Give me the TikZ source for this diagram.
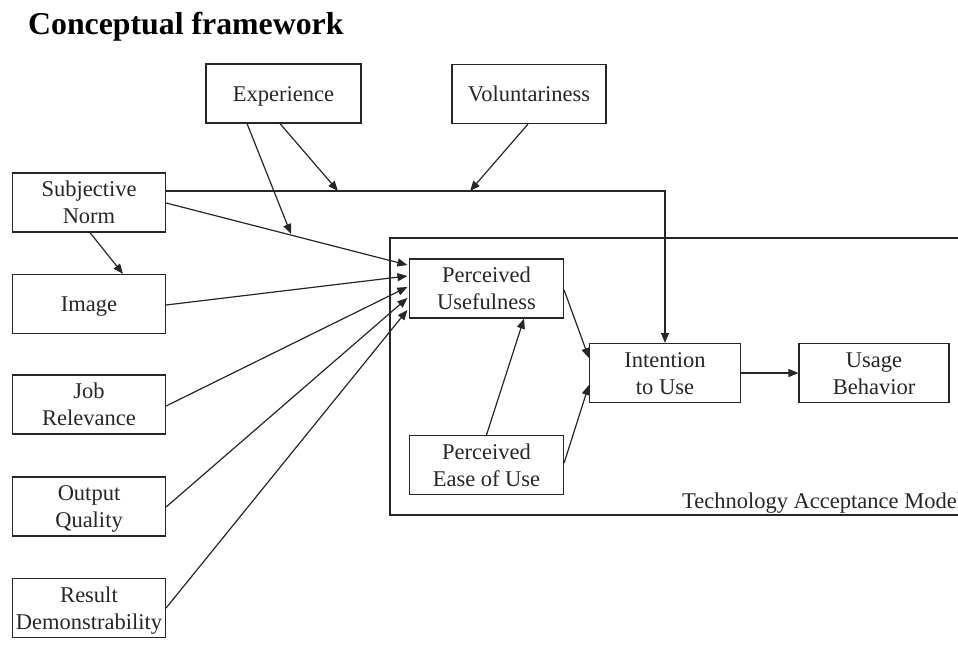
\documentclass[tikz,border=0pt]{standalone}
\usepackage{fontspec}
\setmainfont{Liberation Serif}
\usetikzlibrary{arrows.meta}
\definecolor{ink}{HTML}{262626}
% centred box label, lines 27pt apart
\newcommand\bxlabel[1]{\begin{tabular}{@{}c@{}}#1\end{tabular}}
\begin{document}
\begin{tikzpicture}[x=1pt,y=-1pt,
  box/.style={draw=ink,line width=1.2pt,text=ink,inner sep=0pt,
    text height=15.2pt,text depth=0pt,
    minimum width=#1,minimum height=59pt,font=\fontsize{22.5}{27}\selectfont},
  box/.default=153pt,
  link/.style={draw=ink,line width=1.2pt,-{Triangle[length=10pt,width=8pt]}},
  plain/.style={draw=ink,line width=1.2pt}]
\useasboundingbox (0,0) rectangle (958,660);
\begin{scope}
\clip (0,0) rectangle (958,660);

% title
\node[anchor=base west,font=\bfseries\fontsize{31.8}{36}\selectfont,inner sep=0pt] (title) at (28,35) {Conceptual framework};

% moderators
\node[box=155pt] (exp) at (283.5,93.5) {\bxlabel{Experience}};
\node[box=154pt] (vol) at (529,94) {\bxlabel{Voluntariness}};

% external variables
\node[box] (sn)  at (89,202.5) {\bxlabel{Subjective\\Norm}};
\node[box] (img) at (89,304)   {\bxlabel{Image}};
\node[box] (job) at (89,404.5) {\bxlabel{Job\\Relevance}};
\node[box] (out) at (89,506.5) {\bxlabel{Output\\Quality}};
\node[box] (res) at (89,608)   {\bxlabel{Result\\Demonstrability}};

% technology acceptance model frame (runs off the right edge)
\draw[plain] (965,238) -- (390,238) -- (390,515) -- (965,515);
\node[anchor=base west,inner sep=0pt,text=ink,font=\fontsize{22.5}{27}\selectfont] (tamlabel) at (682,508) {Technology Acceptance Model};

% TAM constructs
\node[box=154pt] (pu)   at (486.5,288.5) {\bxlabel{Perceived\\Usefulness}};
\node[box=154pt] (peou) at (486.5,465)   {\bxlabel{Perceived\\Ease of Use}};
\node[box=151pt] (int)  at (665,373)     {\bxlabel{Intention\\to Use}};
\node[box=150pt] (use)  at (874,373)     {\bxlabel{Usage\\Behavior}};

% junctions on the moderated paths
\coordinate (bend) at (665,191);
\coordinate (jexp) at (338,191);
\coordinate (jvol) at (470,191);
\coordinate (jsn)  at (291,234);

% subjective norm -> intention (moderated)
\draw[link] (sn.east |- bend) -- (bend) -- (int.north);
\draw[link] ([xshift=-3.5pt]exp.south) -- (jexp);
\draw[link] ([xshift=-1pt]vol.south) -- (jvol);

% subjective norm -> perceived usefulness (moderated by experience)
\draw[link] ([yshift=-0.5pt]sn.east) -- ([xshift=-1.5pt,yshift=23.5pt]pu.west);
\draw[link] ([xshift=-36.5pt]exp.south) -- (jsn);
\draw[link] ([xshift=1pt]sn.south) -- ([xshift=34pt]img.north);

% other determinants of perceived usefulness
\draw[link] ([yshift=-1pt]img.east) -- ([xshift=-1.5pt,yshift=12.5pt]pu.west);
\draw[link] ([yshift=-1.5pt]job.east) -- ([xshift=-1.5pt,yshift=1.5pt]pu.west);
\draw[link] ([yshift=-0.5pt]out.east) -- ([xshift=-1.5pt,yshift=-9.5pt]pu.west);
\draw[link] (res.east) -- ([xshift=-1.5pt,yshift=-21.5pt]pu.west);

% core TAM paths
\draw[link] ([yshift=-1.5pt]pu.east) -- ([yshift=15pt]int.west);
\draw[link] (peou.north) -- ([xshift=37.5pt]pu.south);
\draw[link] ([yshift=2pt]peou.east) -- ([yshift=-12pt]int.west);
\draw[link] (int.east) -- (use.west);
\end{scope}
\end{tikzpicture}
\end{document}
